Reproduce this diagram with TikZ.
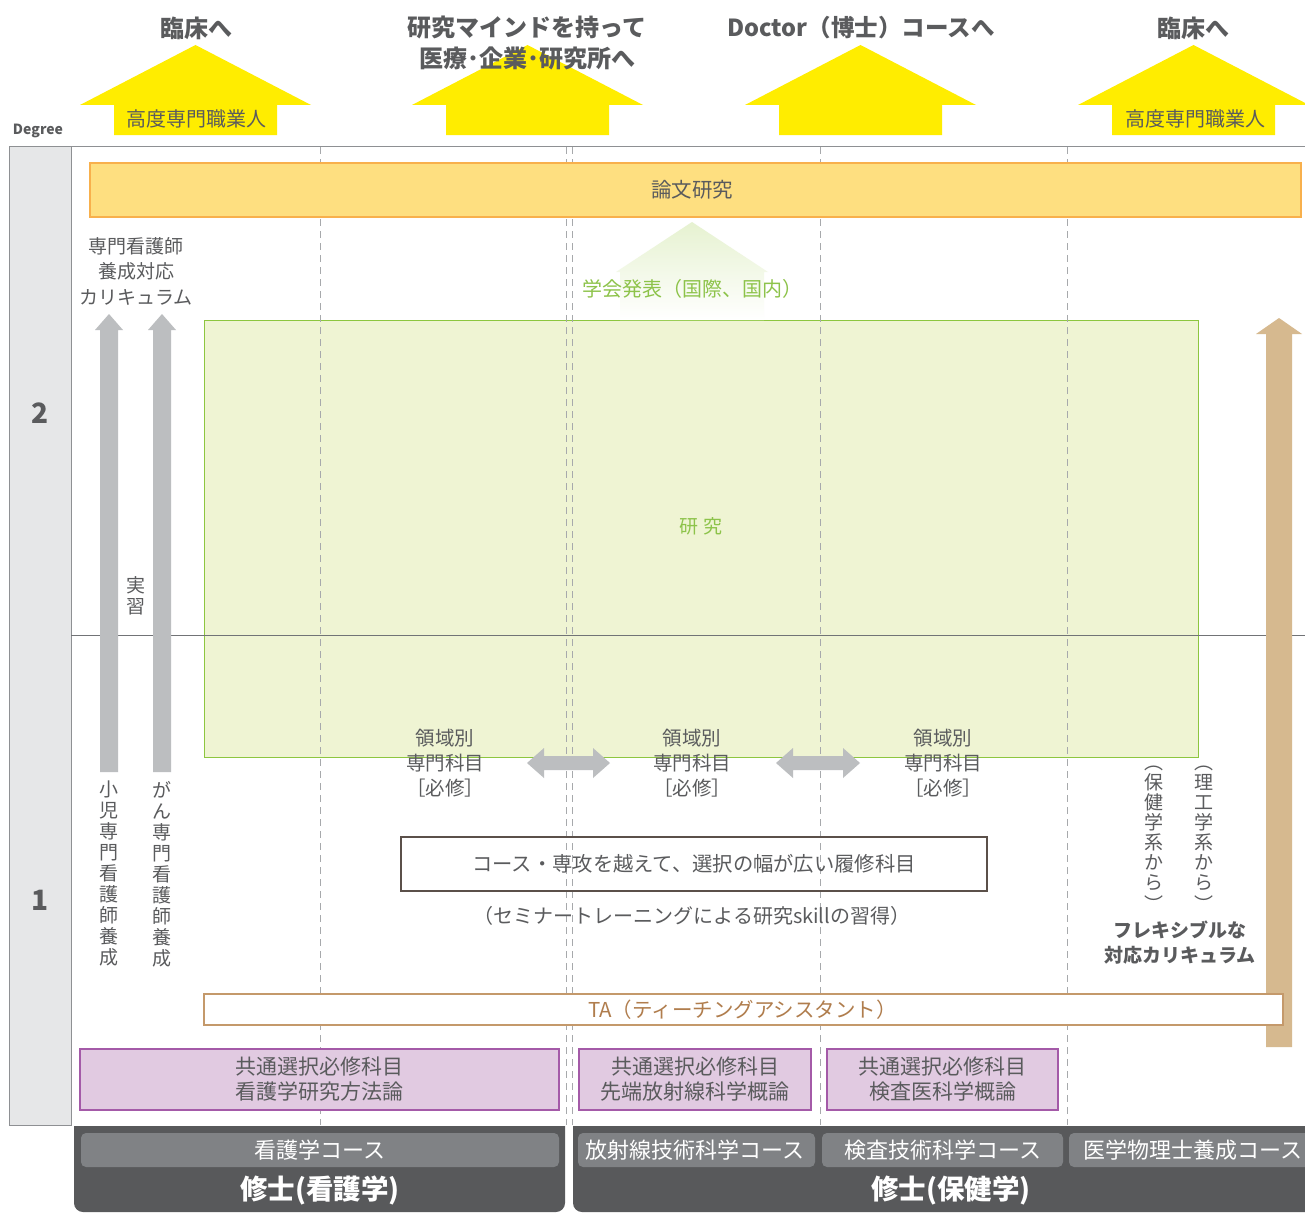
\documentclass[tikz,border=0pt]{standalone}
\usepackage{fontspec}
\setmainfont{Noto Sans CJK JP}
\usetikzlibrary{shapes.geometric}
\definecolor{tgray}{HTML}{5A5B5D}
\definecolor{yel}{HTML}{FFED00}
\definecolor{ofill}{HTML}{FEDF80}
\definecolor{oline}{HTML}{F8B04C}
\definecolor{gfill}{HTML}{EFF4D3}
\definecolor{gline}{HTML}{8DC63F}
\definecolor{gtext}{HTML}{8DC34A}
\definecolor{garrow}{HTML}{BCBEC0}
\definecolor{tanc}{HTML}{D6B98F}
\definecolor{taline}{HTML}{C4996B}
\definecolor{tatext}{HTML}{B07D4D}
\definecolor{pfill}{HTML}{E1CAE1}
\definecolor{pline}{HTML}{A45AA8}
\definecolor{darkbar}{HTML}{58595B}
\definecolor{tabc}{HTML}{808285}
\definecolor{colfill}{HTML}{E6E7E8}
\definecolor{colline}{HTML}{8E9093}
\definecolor{dashc}{HTML}{A7A9AC}
\definecolor{boxline}{HTML}{5B504A}
\begin{document}
\begin{tikzpicture}[x=1pt,y=-1pt,
  every node/.style={inner sep=0pt, outer sep=0pt, align=center},
  title/.style={font=\fontsize{24}{31}\selectfont\bfseries, text=tgray},
  sub/.style={font=\fontsize{20}{25}\selectfont, text=tgray},
  body/.style={font=\fontsize{19.5}{25}\selectfont, text=tgray},
  vtxt/.style={font=\fontsize{19}{21}\selectfont, text=tgray, anchor=north},
  vtxtb/.style={font=\fontsize{19}{20}\selectfont, text=tgray, anchor=north},
  vparen/.style={font=\fontsize{19}{21}\selectfont, text=tgray},
  bold19/.style={font=\fontsize{19}{25}\selectfont\bfseries, text=tgray},
  degnum/.style={font=\fontsize{28}{30}\selectfont\bfseries, text=tgray},
  pbox/.style={draw=pline, fill=pfill, line width=2pt, font=\fontsize{21}{25}\selectfont, text=tgray},
  tabtxt/.style={font=\fontsize{22}{25}\selectfont, text=white},
  degtxt/.style={font=\fontsize{27.5}{30}\selectfont\bfseries, text=white},
  dashline/.style={draw=dashc, line width=1pt, dash pattern=on 7pt off 5pt},
]
\useasboundingbox (0,0) rectangle (1305,1212);
\fill[white] (0,0) rectangle (1305,1212);

% ---- top yellow arrows
\foreach \cx in {195.5,527.5,860.5,1193.5}{
  \fill[yel] (\cx-115.5,105) -- (\cx,45) -- (\cx+115.5,105) -- (\cx+81.5,105)
     -- (\cx+81.5,135) -- (\cx-81.5,135) -- (\cx-81.5,105) -- cycle;
}
\node[title] (t1) at (196,28) {臨床へ};
\node[title] (t2) at (527,43) {研究マインドを持って\\医療･企業･研究所へ};
\node[title, font=\fontsize{23.5}{31}\selectfont\bfseries] (t3) at (861,28) {Doctor（博士）コースへ};
\node[title] (t4) at (1193,28) {臨床へ};
\node[sub] (k1) at (196,119) {高度専門職業人};
\node[sub] (k2) at (1195,119) {高度専門職業人};
\node[font=\fontsize{14}{16}\selectfont\bfseries, text=tgray] (deg) at (38,131) {Degree};

% ---- grid
\fill[colfill] (9,146) rectangle (71,1125);
\draw[colline, line width=1pt] (9,146) rectangle (71,1125);
\draw[colline, line width=1pt] (71,146) -- (1305,146);
\node[degnum] (d2) at (40,413) {2};
\node[degnum] (d1) at (40,900) {1};

% ---- green research box
\draw[gline, fill=gfill, line width=1pt] (204,320) rectangle (1198,757);
\draw[colline!80!black, line width=1pt] (71,635) -- (1305,635);

% ---- dashed lines
\foreach \xx in {320,566,572,820,1067}{
  \draw[dashline] (\xx,147) -- (\xx,1125);
}

% ---- thesis research bar
\node[draw=oline, fill=ofill, line width=2pt, minimum width=1211pt, minimum height=54pt,
      font=\fontsize{20.5}{25}\selectfont, text=tgray] (ronbun) at (695.5,190) {\hspace*{-7pt}論文研究};

% ---- green fading arrow
\shade[top color=gfill!60!gline!45, bottom color=white]
  (692,222) -- (768,272) -- (764,272) -- (764,320) -- (620,320) -- (620,272) -- (616,272) -- cycle;
\node[font=\fontsize{20}{25}\selectfont, text=gtext] (gakkai) at (692,289) {学会発表（国際、国内）};
\node[font=\fontsize{19}{25}\selectfont, text=gtext] (kenkyu) at (701,526) {研\hspace{0.3em}究};

% ---- gray up arrows
\foreach \cx in {109,162}{
  \fill[garrow] (\cx-9,772) -- (\cx-9,330) -- (\cx-14,330) -- (\cx,314) -- (\cx+14,330)
     -- (\cx+9,330) -- (\cx+9,772) -- cycle;
}
\node[font=\fontsize{19}{25.5}\selectfont, text=tgray] (curr) at (136,271) {専門看護師\\養成対応\\カリキュラム};
\node[vtxt] (jisshu) at (136,577) {実\\習};
\node[vtxt] (shoni) at (109,781) {小\\児\\専\\門\\看\\護\\師\\養\\成};
\node[vtxt] (gan) at (162,781) {が\\ん\\専\\門\\看\\護\\師\\養\\成};

% ---- tan arrow
\fill[tanc] (1266,1047) -- (1266,334) -- (1256,334) -- (1279,318) -- (1302,334) -- (1292,334) -- (1292,1047) -- cycle;

% ---- double arrows
\foreach \a/\b in {527/610,776/860}{
  \fill[garrow] (\a,763) -- (\a+17,748) -- (\a+17,756) -- (\b-17,756) -- (\b-17,748) -- (\b,763)
    -- (\b-17,778) -- (\b-17,770) -- (\a+17,770) -- (\a+17,778) -- cycle;
}
\node[body] (r1) at (445,763) {領域別\\専門科目\\［必修］};
\node[body] (r2) at (692,763) {領域別\\専門科目\\［必修］};
\node[body] (r3) at (943,763) {領域別\\専門科目\\［必修］};

% ---- course box
\node[draw=boxline, line width=2pt, minimum width=586pt, minimum height=54pt,
      font=\fontsize{20.3}{25}\selectfont, text=tgray] (course) at (694,864) {コース・専攻を越えて、選択の幅が広い履修科目};
\node[font=\fontsize{20}{25}\selectfont, text=tgray] (seminar) at (692,916) {（セミナートレーニングによる研究skillの習得）};

% ---- right side vertical texts
\node[vtxtb] (hoken) at (1154,774) {保\\健\\学\\系\\か\\ら};
\node[vparen] (hp1) at (1154,768) {︵};
\node[vparen] (hp2) at (1154,904) {︶};
\node[vtxtb] (riko) at (1204,774) {理\\工\\学\\系\\か\\ら};
\node[vparen] (rp1) at (1204,768) {︵};
\node[vparen] (rp2) at (1204,904) {︶};
\node[bold19] (flex) at (1180,943) {フレキシブルな\\対応カリキュラム};

% ---- TA box
\node[draw=taline, fill=white, line width=2.5pt, minimum width=1079pt, minimum height=31pt,
      font=\fontsize{20.5}{25}\selectfont, text=tatext] (ta) at (743.5,1009.5) {\hspace*{-2pt}TA（ティーチングアシスタント）};

% ---- purple boxes
\node[pbox, minimum width=479pt, minimum height=61pt] (p1) at (319.5,1079.5) {共通選択必修科目\\看護学研究方法論};
\node[pbox, minimum width=232pt, minimum height=61pt] (p2) at (695,1079.5) {共通選択必修科目\\先端放射線科学概論};
\node[pbox, minimum width=231pt, minimum height=61pt] (p3) at (942.5,1079.5) {共通選択必修科目\\検査医科学概論};

% ---- bottom bars
\begin{scope}
  \clip (0,1126) rectangle (1305,1212);
  \fill[darkbar, rounded corners=9pt] (74,1090) rectangle (565,1212);
  \fill[darkbar, rounded corners=9pt] (573,1090) rectangle (1330,1212);
\end{scope}
\fill[tabc, rounded corners=5pt] (81,1133) rectangle (559,1167);
\fill[tabc, rounded corners=5pt] (578,1133) rectangle (815,1167);
\fill[tabc, rounded corners=5pt] (822,1133) rectangle (1063,1167);
\fill[tabc, rounded corners=5pt] (1069,1133) rectangle (1320,1167);
\node[tabtxt] (c1) at (320,1150) {看護学コース};
\node[tabtxt] (c2) at (695,1150) {放射線技術科学コース};
\node[tabtxt] (c3) at (943,1150) {検査技術科学コース};
\node[tabtxt] (c4) at (1193,1150) {医学物理士養成コース};
\node[degtxt] (m1) at (320,1190) {修士(看護学)};
\node[degtxt] (m2) at (951,1190) {修士(保健学)};
\end{tikzpicture}
\end{document}
